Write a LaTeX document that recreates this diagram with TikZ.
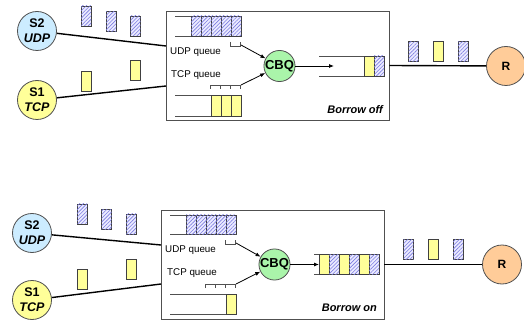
\documentclass[tikz,border=0pt]{standalone}
\usepackage{fontspec}
\setmainfont{Liberation Sans}
\usetikzlibrary{patterns.meta,arrows.meta}

\definecolor{udpblue}{RGB}{204,236,255}
\definecolor{tcpyellow}{RGB}{255,255,153}
\definecolor{cbqgreen}{RGB}{170,245,170}
\definecolor{rorange}{RGB}{255,204,153}
\definecolor{hatchbg}{RGB}{235,235,255}
\definecolor{hatchfg}{RGB}{125,125,225}
\definecolor{edgegray}{RGB}{80,80,80}

\tikzset{
  host/.style={circle, draw=edgegray, line width=0.8pt, minimum size=39pt, inner sep=0pt,
    align=center, font=\fontsize{12.5}{15}\selectfont\bfseries},
  sched/.style={circle, draw=edgegray, line width=0.8pt, fill=cbqgreen, minimum size=31pt,
    inner sep=0pt, font=\fontsize{13}{15}\selectfont\bfseries},
  panel/.style={draw=edgegray, line width=0.9pt, inner sep=0pt},
  qline/.style={draw=edgegray, line width=0.9pt},
  link/.style={draw=black, line width=1.4pt},
  yel/.style={draw=black!75, line width=0.8pt, fill=tcpyellow},
  hatch/.style={draw=black!75, line width=0.8pt, fill=hatchbg,
    postaction={pattern={Lines[angle=45, distance=2.6pt, line width=0.6pt]}, pattern color=hatchfg}},
  pktU/.style={hatch, minimum width=10pt, minimum height=20pt, inner sep=0pt},
  pktT/.style={yel, minimum width=10pt, minimum height=20pt, inner sep=0pt},
  qlabel/.style={anchor=west, inner sep=0pt, font=\fontsize{9.8}{11}\selectfont},
  mode/.style={anchor=east, inner sep=0pt, font=\fontsize{11}{13}\selectfont\bfseries\itshape},
  feed/.style={draw=black, line width=0.8pt, -{Latex[length=5pt,width=4pt]}},
}

\begin{document}
\begin{tikzpicture}[x=1pt, y=-1pt]
\useasboundingbox (0,0) rectangle (524,320);

% ---------- upper panel: borrowing disabled ----------
\begin{scope}
  \node[panel, minimum width=223pt, minimum height=109pt] (boxA) at (277.5,65.5) {};
  \node[host, fill=udpblue] (s2A) at (37,31) {S2\\\textit{UDP}};
  \node[host, fill=tcpyellow] (s1A) at (37,100) {S1\\\textit{TCP}};
  \coordinate (s2inA) at (166,46);
  \coordinate (s1inA) at (166,86);
  \draw[link] (s2A) -- (s2inA);
  \draw[link] (s1A) -- (s1inA);

  % packets on the way in
  \node[pktU] (ua1) at (86,16) {};
  \node[pktU] (ua2) at (111,21.5) {};
  \node[pktU] (ua3) at (135.5,26) {};
  \node[pktT] (ta1) at (86.5,81) {};
  \node[pktT] (ta2) at (135.5,70.5) {};

  % UDP queue
  \draw[qline] (175,16) -- (241,16) (175,36) -- (241,36);
  \foreach \i in {0,...,4} \draw[hatch] (191+10*\i,16) rectangle +(10,20);
  \draw[qline] (230,42) -- (230,46) -- (240,46) -- (240,42);
  \node[qlabel] (ulabA) at (170,52) {UDP queue};

  % TCP queue
  \node[qlabel] (tlabA) at (171,75.5) {TCP queue};
  \draw[qline] (210,89) -- (210,85) -- (240,85) -- (240,89)
               (220,85) -- (220,89) (230,85) -- (230,89);
  \draw[qline] (175,95) -- (241,95) (175,116) -- (241,116);
  \foreach \i in {0,...,2} \draw[yel] (211+10*\i,95) rectangle +(10,21);

  % scheduler
  \node[sched] (cbqA) at (279.5,66) {CBQ};
  \coordinate (udpoutA) at (241,45);
  \coordinate (tcpoutA) at (241,85);
  \draw[feed] (udpoutA) -- (cbqA);
  \draw[feed] (tcpoutA) -- (cbqA);

  % output queue
  \coordinate (qendA) at (334,66);
  \draw[feed] (cbqA) -- (qendA);
  \draw[qline] (319,56) -- (384,56) (319,76) -- (384,76);
  \draw[yel] (364,56) rectangle (374,76);
  \draw[hatch] (374,56) rectangle (384,76);

  \node[mode] (modeA) at (383,110) {Borrow off};

  % receiver
  \node[host, fill=rorange, font=\fontsize{12}{14}\selectfont\bfseries] (rA) at (506,66) {R};
  \draw[link] (boxA.east) -- (rA);
  \node[pktU] (oa1) at (413.5,51.5) {};
  \node[pktT] (oa2) at (438,51.5) {};
  \node[pktU] (oa3) at (463,51.5) {};
\end{scope}

% ---------- lower panel: borrowing enabled ----------
\begin{scope}[shift={(-5,199)}]
  \node[panel, minimum width=223pt, minimum height=109pt] (boxB) at (277.5,65.5) {};
  \node[host, fill=udpblue] (s2B) at (37,34) {S2\\\textit{UDP}};
  \node[host, fill=tcpyellow] (s1B) at (37,101) {S1\\\textit{TCP}};
  \coordinate (s2inB) at (166,46);
  \coordinate (s1inB) at (166,85);
  \draw[link] (s2B) -- (s2inB);
  \draw[link] (s1B) -- (s1inB);

  \node[pktU] (ub1) at (87,15) {};
  \node[pktU] (ub2) at (111.5,20.5) {};
  \node[pktU] (ub3) at (136,25) {};
  \node[pktT] (tb1) at (87,80) {};
  \node[pktT] (tb2) at (136,70) {};

  \draw[qline] (175,16) -- (241,16) (175,35) -- (241,35);
  \foreach \i in {0,...,4} \draw[hatch] (191+10*\i,16) rectangle +(10,19);
  \draw[qline] (230,41) -- (230,45) -- (240,45) -- (240,41);
  \node[qlabel] (ulabB) at (170,51) {UDP queue};

  \node[qlabel] (tlabB) at (172,74) {TCP queue};
  \draw[qline] (210,89) -- (210,85) -- (240,85) -- (240,89)
               (220,85) -- (220,89) (230,85) -- (230,89);
  \draw[qline] (175,95) -- (241,95) (175,115) -- (241,115);
  \draw[yel] (231,95) rectangle (241,115);

  \node[sched] (cbqB) at (279.5,65.5) {CBQ};
  \coordinate (udpoutB) at (241,44);
  \coordinate (tcpoutB) at (241,85);
  \draw[feed] (udpoutB) -- (cbqB);
  \draw[feed] (tcpoutB) -- (cbqB);

  \coordinate (qendB) at (324,65.5);
  \draw[feed] (cbqB) -- (qendB);
  \draw[qline] (319,55.5) -- (384,55.5) (319,75.5) -- (384,75.5);
  \foreach \i in {0,2,4} {
    \draw[yel] (324+10*\i,55.5) rectangle +(10,20);
    \draw[hatch] (334+10*\i,55.5) rectangle +(10,20);
  }

  \node[mode] (modeB) at (382,109) {Borrow on};

  \node[host, fill=rorange, font=\fontsize{12}{14}\selectfont\bfseries] (rB) at (507,65.5) {R};
  \draw[link] (boxB.east) -- (rB);
  \node[pktU] (ob1) at (413.5,50) {};
  \node[pktT] (ob2) at (438,50) {};
  \node[pktU] (ob3) at (463,50) {};
\end{scope}
\end{tikzpicture}
\end{document}
